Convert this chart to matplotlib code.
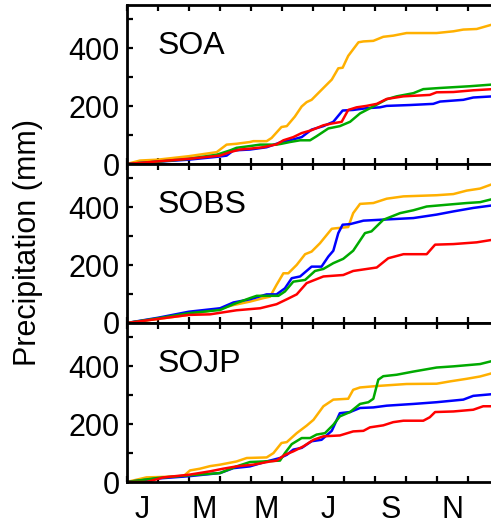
import matplotlib
matplotlib.use("Agg")
import matplotlib.pyplot as plt
from matplotlib.ticker import FixedLocator, NullFormatter, FixedFormatter

plt.rcParams['font.family'] = ['Liberation Sans', 'DejaVu Sans']

# x positions are in months since 1 January
month_labels = ['J', 'M', 'M', 'J', 'S', 'N']
month_label_pos = [0.5, 2.5, 4.5, 6.5, 8.5, 10.5]
panel_names = ['SOA', 'SOBS', 'SOJP']

# ---------------- SOA ----------------
soa_orange_x = [0, 0.43, 1.0, 2.0, 2.9, 3.22, 3.54, 3.97, 4.08, 4.51, 4.67, 4.83, 4.99, 5.16, 5.42, 5.64, 5.8, 5.96, 6.34, 6.61, 6.82, 6.96, 7.14, 7.47, 7.63, 7.95, 8.27, 8.59, 9.02, 9.99, 10.53, 10.85, 11.28, 11.8]
soa_orange_y = [0, 12, 15, 27, 41, 67, 70, 76, 79, 79, 90, 109, 128, 131, 164, 199, 214, 222, 263, 292, 331, 333, 374, 421, 424, 426, 440, 444, 453, 453, 459, 465, 467, 483]
soa_green_x = [0, 1.0, 2.0, 2.9, 3.33, 3.54, 3.97, 4.3, 4.83, 4.99, 5.26, 5.59, 5.91, 6.12, 6.5, 6.87, 7.2, 7.52, 7.95, 8.38, 8.7, 9.24, 9.56, 10.1, 11.06, 11.8]
soa_green_y = [0, 8, 18, 32, 47, 56, 62, 67, 67, 70, 76, 82, 82, 96, 123, 131, 146, 175, 199, 224, 234, 245, 259, 263, 269, 275]
soa_red_x = [0, 1.0, 2.0, 3.01, 3.33, 3.65, 3.97, 4.4, 4.83, 5.05, 5.37, 5.64, 5.96, 6.34, 6.61, 6.93, 7.14, 7.41, 7.73, 8.06, 8.38, 8.92, 9.77, 9.99, 10.53, 11.17, 11.8]
soa_red_y = [0, 9, 18, 29, 41, 50, 53, 58, 68, 82, 93, 107, 117, 134, 140, 146, 187, 196, 201, 208, 225, 234, 239, 248, 249, 255, 259]
soa_blue_x = [0, 1.0, 2.0, 3.01, 3.22, 3.44, 3.97, 4.51, 4.99, 5.26, 5.64, 5.96, 6.34, 6.66, 6.96, 7.3, 7.73, 8.16, 8.38, 9.13, 9.88, 10.1, 10.85, 11.17, 11.8]
soa_blue_y = [0, 8, 15, 26, 29, 47, 50, 58, 76, 82, 93, 119, 131, 146, 185, 187, 193, 196, 201, 204, 208, 216, 222, 230, 234]

# ---------------- SOBS ----------------
sobs_orange_x = [0, 1.0, 2.0, 2.99, 3.44, 3.97, 4.4, 4.62, 4.83, 5.05, 5.21, 5.48, 5.75, 5.96, 6.23, 6.61, 6.77, 7.14, 7.3, 7.52, 7.95, 8.38, 8.92, 9.99, 10.53, 10.96, 11.39, 11.8]
sobs_orange_y = [0, 14, 28, 49, 62, 74, 86, 91, 132, 172, 172, 201, 238, 247, 276, 326, 328, 332, 380, 412, 415, 430, 438, 442, 446, 458, 465, 481]
sobs_blue_x = [0, 1.0, 2.0, 3.01, 3.44, 3.97, 4.51, 4.83, 5.1, 5.32, 5.59, 5.96, 6.28, 6.5, 6.66, 6.82, 6.96, 7.2, 7.63, 8.16, 9.24, 9.99, 10.53, 11.17, 11.8]
sobs_blue_y = [0, 18, 39, 51, 71, 82, 99, 99, 120, 155, 161, 195, 195, 230, 250, 311, 340, 342, 354, 357, 363, 375, 386, 398, 407]
sobs_green_x = [0, 1.0, 2.0, 3.01, 3.44, 3.97, 4.19, 4.62, 4.89, 5.1, 5.37, 5.75, 6.07, 6.34, 6.66, 6.98, 7.3, 7.68, 7.89, 8.27, 8.81, 9.24, 9.67, 10.31, 10.96, 11.39, 11.8]
sobs_green_y = [0, 16, 34, 45, 65, 86, 94, 94, 94, 109, 143, 149, 180, 187, 207, 222, 250, 311, 317, 357, 380, 390, 403, 409, 415, 418, 429]
sobs_red_x = [0, 1.0, 2.0, 2.69, 3.54, 4.3, 4.83, 5.16, 5.48, 5.8, 6.34, 6.98, 7.3, 8.06, 8.43, 8.92, 9.67, 9.94, 10.53, 11.28, 11.8]
sobs_red_y = [0, 14, 28, 30, 44, 51, 65, 82, 99, 138, 161, 166, 180, 192, 224, 238, 238, 271, 273, 279, 288]

# ---------------- SOJP ----------------
sojp_orange_x = [0, 0.64, 1.0, 1.83, 2.04, 2.36, 2.69, 3.01, 3.54, 3.87, 4.51, 4.73, 4.99, 5.16, 5.48, 5.8, 6.02, 6.34, 6.66, 7.14, 7.3, 7.52, 8.06, 9.02, 9.99, 10.42, 10.96, 11.39, 11.8]
sojp_orange_y = [0, 16, 17, 20, 40, 46, 55, 60, 71, 83, 85, 100, 135, 138, 169, 195, 215, 262, 285, 288, 319, 327, 332, 339, 340, 348, 357, 365, 377]
sojp_green_x = [0, 1.0, 2.0, 3.01, 3.54, 3.97, 4.4, 4.94, 5.1, 5.32, 5.64, 5.91, 6.12, 6.39, 6.66, 6.87, 7.2, 7.52, 7.79, 7.95, 8.11, 8.27, 8.7, 9.24, 9.99, 10.53, 11.39, 11.8]
sojp_green_y = [0, 14, 23, 31, 54, 69, 71, 74, 100, 131, 152, 152, 164, 169, 198, 227, 242, 270, 276, 288, 354, 366, 371, 382, 396, 400, 408, 419]
sojp_blue_x = [0, 1.0, 2.0, 3.01, 3.44, 3.97, 4.51, 4.94, 5.16, 5.37, 5.64, 5.96, 6.28, 6.61, 6.87, 7.2, 7.52, 7.95, 8.38, 9.24, 9.99, 10.85, 11.17, 11.8]
sojp_blue_y = [0, 12, 20, 31, 48, 54, 71, 83, 94, 112, 118, 141, 146, 177, 238, 242, 256, 258, 264, 270, 276, 285, 298, 304]
sojp_red_x = [0, 0.64, 1.18, 2.0, 2.69, 3.11, 3.54, 4.08, 4.62, 4.83, 5.1, 5.37, 5.69, 6.02, 6.34, 6.87, 7.3, 7.63, 7.84, 8.27, 8.59, 8.92, 9.56, 9.77, 9.94, 10.53, 11.17, 11.49, 11.8]
sojp_red_y = [0, 0, 16, 25, 37, 46, 54, 60, 71, 74, 94, 106, 123, 146, 158, 161, 175, 177, 189, 196, 207, 212, 212, 224, 242, 244, 250, 262, 262]

colors = {'orange': '#FFB000', 'blue': '#0000FF', 'green': '#00AA00', 'red': '#FF0000'}

panels = [
    [('orange', soa_orange_x, soa_orange_y), ('blue', soa_blue_x, soa_blue_y),
     ('green', soa_green_x, soa_green_y), ('red', soa_red_x, soa_red_y)],
    [('orange', sobs_orange_x, sobs_orange_y), ('blue', sobs_blue_x, sobs_blue_y),
     ('green', sobs_green_x, sobs_green_y), ('red', sobs_red_x, sobs_red_y)],
    [('orange', sojp_orange_x, sojp_orange_y), ('blue', sojp_blue_x, sojp_blue_y),
     ('green', sojp_green_x, sojp_green_y), ('red', sojp_red_x, sojp_red_y)],
]

W, H = 491, 525
fig = plt.figure(figsize=(W / 100, H / 100), dpi=100)

left = 126.7 / W
width = 372.3 / W
panel_h_px = 159.0
bottom3_px = 482.0
height = panel_h_px / H

for i, (name, series) in enumerate(zip(panel_names, panels)):
    bottom_px = bottom3_px - (2 - i) * panel_h_px
    bottom = (H - bottom_px) / H
    ax = fig.add_axes([left, bottom, width, height])
    for cname, xs, ys in series:
        ax.plot(xs, ys, color=colors[cname], lw=1.8, solid_joinstyle='round', clip_on=True)
    ax.set_xlim(0, 12)
    ax.set_ylim(0, 550)
    for sp in ax.spines.values():
        sp.set_linewidth(2.0)
    ax.set_yticks([0, 200, 400])
    ax.yaxis.set_minor_locator(FixedLocator([100, 300, 500]))
    ax.xaxis.set_major_locator(FixedLocator(list(range(13))))
    ax.xaxis.set_major_formatter(NullFormatter())
    ax.tick_params(axis='both', which='major', direction='in', length=4.5, width=1.6,
                   top=True, right=True, labelsize=22)
    ax.tick_params(axis='y', which='minor', direction='in', length=4.5, width=1.6, right=True)
    ax.tick_params(axis='y', which='major', pad=5)
    if i == 2:
        ax.xaxis.set_minor_locator(FixedLocator(month_label_pos))
        ax.xaxis.set_minor_formatter(FixedFormatter(month_labels))
        ax.tick_params(axis='x', which='minor', length=0, labelsize=22, pad=9)
    else:
        ax.xaxis.set_minor_locator(FixedLocator([]))
    ax.text(0.084, 0.74, name, transform=ax.transAxes, fontsize=23,
            ha='left', va='center')

fig.text(28.5 / W, (H - 243) / H, 'Precipitation (mm)', rotation=90,
         fontsize=22, ha='center', va='center')

fig.savefig('out.png', dpi=100)
